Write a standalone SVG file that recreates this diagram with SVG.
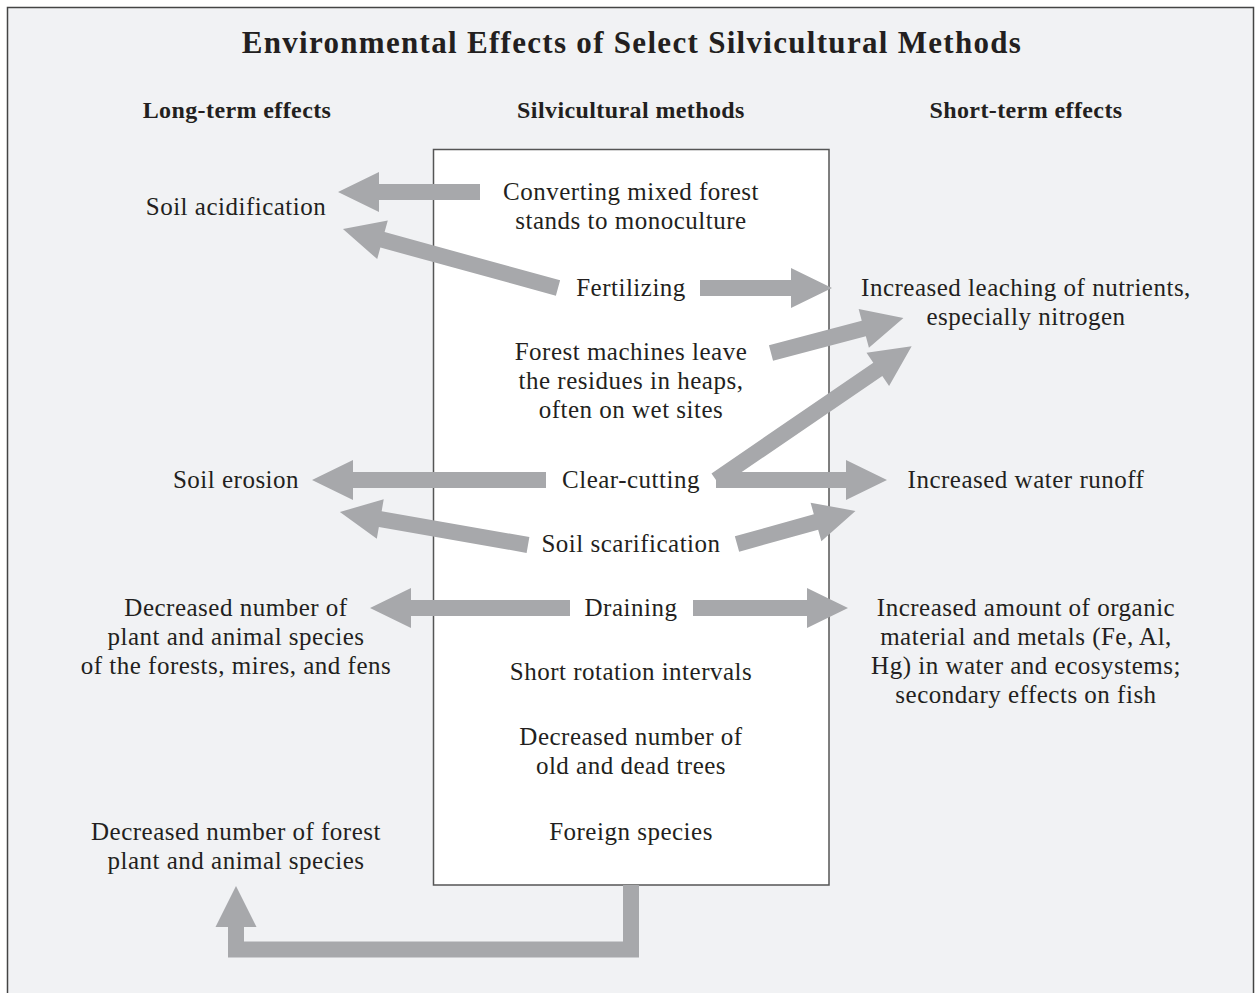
<svg xmlns="http://www.w3.org/2000/svg" width="1260" height="993" viewBox="0 0 1260 993">
<style>
  text { font-family: "Liberation Serif", "Times New Roman", serif; fill: #231f20; text-anchor: middle; }
  .title { font-size: 31px; font-weight: bold; letter-spacing: 1.3px; }
  .head { font-size: 24px; font-weight: bold; letter-spacing: 0.4px; }
  .body { font-size: 25px; letter-spacing: 0.5px; }
  .arrow { fill: #a7a8ab; stroke: none; }
  .elbow { fill: none; stroke: #a7a8ab; stroke-width: 16; stroke-linejoin: miter; stroke-linecap: butt; }
</style>
<rect x="0" y="0" width="1260" height="993" fill="#ffffff"/>
<rect x="7.5" y="7.5" width="1246" height="1000" fill="#f1f2f4" stroke="#444444" stroke-width="1.5"/>

<g id="title">
  <text class="title" x="632" y="53">Environmental Effects of Select Silvicultural Methods</text>
</g>
<g id="headers">
  <text class="head" x="237" y="118">Long-term effects</text>
  <text class="head" x="631" y="118">Silvicultural methods</text>
  <text class="head" x="1026" y="118">Short-term effects</text>
</g>

<g id="methods-box">
  <rect x="433.5" y="149.5" width="395.5" height="735.5" fill="#ffffff" stroke="#555555" stroke-width="1.5"/>
</g>

<g id="connectors">
  <path class="arrow" transform="translate(480,192) rotate(180)" d="M0,-8H101V-20L142,0L101,20V8H0Z"/>
  <path class="arrow" transform="translate(558,288) rotate(195.35)" d="M0,-8H182V-20L223,0L182,20V8H0Z"/>
  <path class="arrow" transform="translate(700,288)" d="M0,-8H91V-20L132,0L91,20V8H0Z"/>
  <path class="arrow" transform="translate(771,353) rotate(-14.85)" d="M0,-8H96V-20L137,0L96,20V8H0Z"/>
  <path class="arrow" transform="translate(716,480) rotate(-34.36)" d="M0,-8H196V-20L237,0L196,20V8H0Z"/>
  <path class="arrow" transform="translate(716,480)" d="M0,-8H130V-20L171,0L130,20V8H0Z"/>
  <path class="arrow" transform="translate(546,480) rotate(180)" d="M0,-8H193V-20L234,0L193,20V8H0Z"/>
  <path class="arrow" transform="translate(528,545) rotate(189.96)" d="M0,-8H150V-20L191,0L150,20V8H0Z"/>
  <path class="arrow" transform="translate(737,544) rotate(-15.6)" d="M0,-8H82V-20L123,0L82,20V8H0Z"/>
  <path class="arrow" transform="translate(570,608) rotate(180)" d="M0,-8H159V-20L200,0L159,20V8H0Z"/>
  <path class="arrow" transform="translate(693,608)" d="M0,-8H114V-20L155,0L114,20V8H0Z"/>
  <path class="elbow" d="M631,885V949.5H236V926"/>
  <path class="arrow" d="M215.5,927L236,886L256.5,927Z"/>
</g>

<g id="n-soil-acidification"><text class="body" x="236" y="215">Soil acidification</text></g>
<g id="n-soil-erosion"><text class="body" x="236" y="488">Soil erosion</text></g>
<g id="n-decreased-species-mires">
  <text class="body" x="236" y="616">Decreased number of</text>
  <text class="body" x="236" y="645">plant and animal species</text>
  <text class="body" x="236" y="674">of the forests, mires, and fens</text>
</g>
<g id="n-decreased-forest-species">
  <text class="body" x="236" y="840">Decreased number of forest</text>
  <text class="body" x="236" y="869">plant and animal species</text>
</g>

<g id="m-converting">
  <text class="body" x="631" y="200">Converting mixed forest</text>
  <text class="body" x="631" y="229">stands to monoculture</text>
</g>
<g id="m-fertilizing"><text class="body" x="631" y="296">Fertilizing</text></g>
<g id="m-forest-machines">
  <text class="body" x="631" y="360">Forest machines leave</text>
  <text class="body" x="631" y="389">the residues in heaps,</text>
  <text class="body" x="631" y="418">often on wet sites</text>
</g>
<g id="m-clear-cutting"><text class="body" x="631" y="488">Clear-cutting</text></g>
<g id="m-soil-scarification"><text class="body" x="631" y="552">Soil scarification</text></g>
<g id="m-draining"><text class="body" x="631" y="616">Draining</text></g>
<g id="m-short-rotation"><text class="body" x="631" y="680">Short rotation intervals</text></g>
<g id="m-old-dead-trees">
  <text class="body" x="631" y="745">Decreased number of</text>
  <text class="body" x="631" y="774">old and dead trees</text>
</g>
<g id="m-foreign-species"><text class="body" x="631" y="840">Foreign species</text></g>

<g id="s-leaching">
  <text class="body" x="1026" y="296">Increased leaching of nutrients,</text>
  <text class="body" x="1026" y="325">especially nitrogen</text>
</g>
<g id="s-runoff"><text class="body" x="1026" y="488">Increased water runoff</text></g>
<g id="s-organic">
  <text class="body" x="1026" y="616">Increased amount of organic</text>
  <text class="body" x="1026" y="645">material and metals (Fe, Al,</text>
  <text class="body" x="1026" y="674">Hg) in water and ecosystems;</text>
  <text class="body" x="1026" y="703">secondary effects on fish</text>
</g>
</svg>
